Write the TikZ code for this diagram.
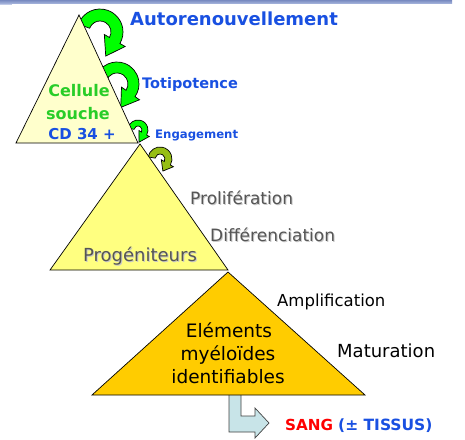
\documentclass[tikz,border=0pt]{standalone}
\usepackage{fontspec}
\setmainfont{DejaVu Sans}
\usetikzlibrary{calc}
\definecolor{tblue}{RGB}{25,80,225}
\definecolor{tgreen}{RGB}{40,205,40}
\definecolor{agreen}{RGB}{0,255,0}
\definecolor{aolive}{RGB}{150,190,20}
\definecolor{triA}{RGB}{255,255,204}
\definecolor{triB}{RGB}{255,255,128}
\definecolor{triC}{RGB}{255,204,0}
\definecolor{tgray}{RGB}{85,85,85}
\definecolor{sgray}{RGB}{200,200,200}
\definecolor{bentfill}{RGB}{200,228,232}
\definecolor{barA}{RGB}{120,138,192}
\definecolor{barB}{RGB}{165,180,220}
\newcommand\grarrow[8]{%
  \pgfmathsetmacro\gaM{(#3+#4)/2}%
  \pgfmathsetmacro\gaO{\gaM+(#4-#3)}%
  \pgfmathsetmacro\gaI{max(\gaM-(#4-#3),1)}%
  \pgfmathsetmacro\gaT{#6-90}%
  \filldraw[fill=#8,draw=black,line width=0.7pt,line join=miter]
    ($(#1,#2)+(#5:#4)$) arc[start angle=#5,end angle=#6,radius=#4]
    -- ($(#1,#2)+(#6:\gaO)$)
    -- ($(#1,#2)+(#6:\gaM)+(\gaT:#7)$)
    -- ($(#1,#2)+(#6:\gaI)$)
    -- ($(#1,#2)+(#6:#3)$)
    arc[start angle=#6,end angle=#5,radius=#3] -- cycle;}
\begin{document}
\begin{tikzpicture}[x=1pt,y=1pt,
  tri/.style={draw=black,line width=0.7pt,line join=miter},
  lbl/.style={inner sep=0pt,anchor=mid west},
  bluelbl/.style={lbl,text=tblue,font=\bfseries},
  graylbl/.style={lbl,text=tgray},
  shadowlbl/.style={lbl,text=sgray},
  blacklbl/.style={lbl,text=black},
  ctr/.style={inner sep=0pt,anchor=mid}]
\useasboundingbox (0,0) rectangle (465,-439);
% top bar
\shade[top color=barA,bottom color=barB] (0,0) rectangle (452,-3.5);
\fill[barB!70!white] (0,-3.5) rectangle (12,-4.5);
% green circular arrows (behind triangles)
\grarrow{100}{-32}{11}{23}{160}{-30}{18}{agreen}
\grarrow{117}{-84}{11}{22}{160}{-35}{17}{agreen}
\grarrow{138}{-130}{4}{10}{170}{-30}{10}{agreen}
\grarrow{160}{-159}{5}{12}{170}{-30}{9}{aolive}
% bent arrow to blood
\filldraw[fill=bentfill,draw=black!75,line width=0.7pt]
  (229,-393) -- (241,-393) -- (241,-416) -- (255,-416) -- (255,-408)
  -- (269,-423) -- (255,-438) -- (255,-432) -- (229,-432) -- cycle;
% triangles
\coordinate (t1a) at (79,-15);
\coordinate (t1l) at (16,-143);
\coordinate (t1r) at (138,-143);
\coordinate (t2a) at (140,-144);
\coordinate (t2l) at (50,-270);
\coordinate (t2r) at (228,-270);
\coordinate (t3a) at (228,-272);
\coordinate (t3l) at (92,-395);
\coordinate (t3r) at (365,-395);
\filldraw[tri,fill=triA] (t1a) -- (t1r) -- (t1l) -- cycle;
\filldraw[tri,fill=triB] (t2a) -- (t2r) -- (t2l) -- cycle;
\filldraw[tri,fill=triC] (t3a) -- (t3r) -- (t3l) -- cycle;
% texts in triangles
\node[ctr,text=tgreen,font=\fontsize{16}{18}\bfseries\selectfont] (cel) at (79,-94) {Cellule};
\node[ctr,text=tgreen,font=\fontsize{16}{18}\bfseries\selectfont] (sou) at (78,-117) {souche};
\node[ctr,text=tblue,font=\fontsize{15}{18}\bfseries\selectfont] (cd) at (82,-137) {CD 34 +};
\node[ctr,text=sgray,font=\fontsize{18}{20}\selectfont] (progs) at (141,-260) {Progéniteurs};
\node[ctr,text=tgray,font=\fontsize{18}{20}\selectfont] (prog) at (140,-259) {Progéniteurs};
\node[ctr,font=\fontsize{18.5}{21}\selectfont] (ele1) at (229,-335) {Eléments};
\node[ctr,font=\fontsize{18.5}{21}\selectfont] (ele2) at (228,-358) {myéloïdes};
\node[ctr,font=\fontsize{18.5}{21}\selectfont] (ele3) at (228,-381) {identifiables};
% side labels
\node[bluelbl,font=\fontsize{18}{20}\bfseries\selectfont] (auto) at (130,-23) {Autorenouvellement};
\node[bluelbl,font=\fontsize{14.5}{17}\bfseries\selectfont] (toti) at (142,-86) {Totipotence};
\node[bluelbl,font=\fontsize{11.7}{14}\bfseries\selectfont] (enga) at (155,-136) {Engagement};
\node[shadowlbl,font=\fontsize{17}{19}\selectfont] (prols) at (191,-203) {Prolifération};
\node[graylbl,font=\fontsize{17}{19}\selectfont] (prol) at (190,-202) {Prolifération};
\node[shadowlbl,font=\fontsize{17}{19}\selectfont] (diffs) at (211,-240) {Différenciation};
\node[graylbl,font=\fontsize{17}{19}\selectfont] (diff) at (210,-239) {Différenciation};
\node[blacklbl,font=\fontsize{16.5}{19}\selectfont] (ampl) at (277,-304) {Amplification};
\node[blacklbl,font=\fontsize{18}{20}\selectfont] (matu) at (337,-355) {Maturation};
\node[lbl,text=red,font=\fontsize{15.2}{18}\bfseries\selectfont] (sang) at (285,-428) {SANG};
\node[lbl,text=tblue,font=\fontsize{15.5}{18}\bfseries\selectfont] (tiss) at (338,-428) {(± TISSUS)};
\end{tikzpicture}
\end{document}
